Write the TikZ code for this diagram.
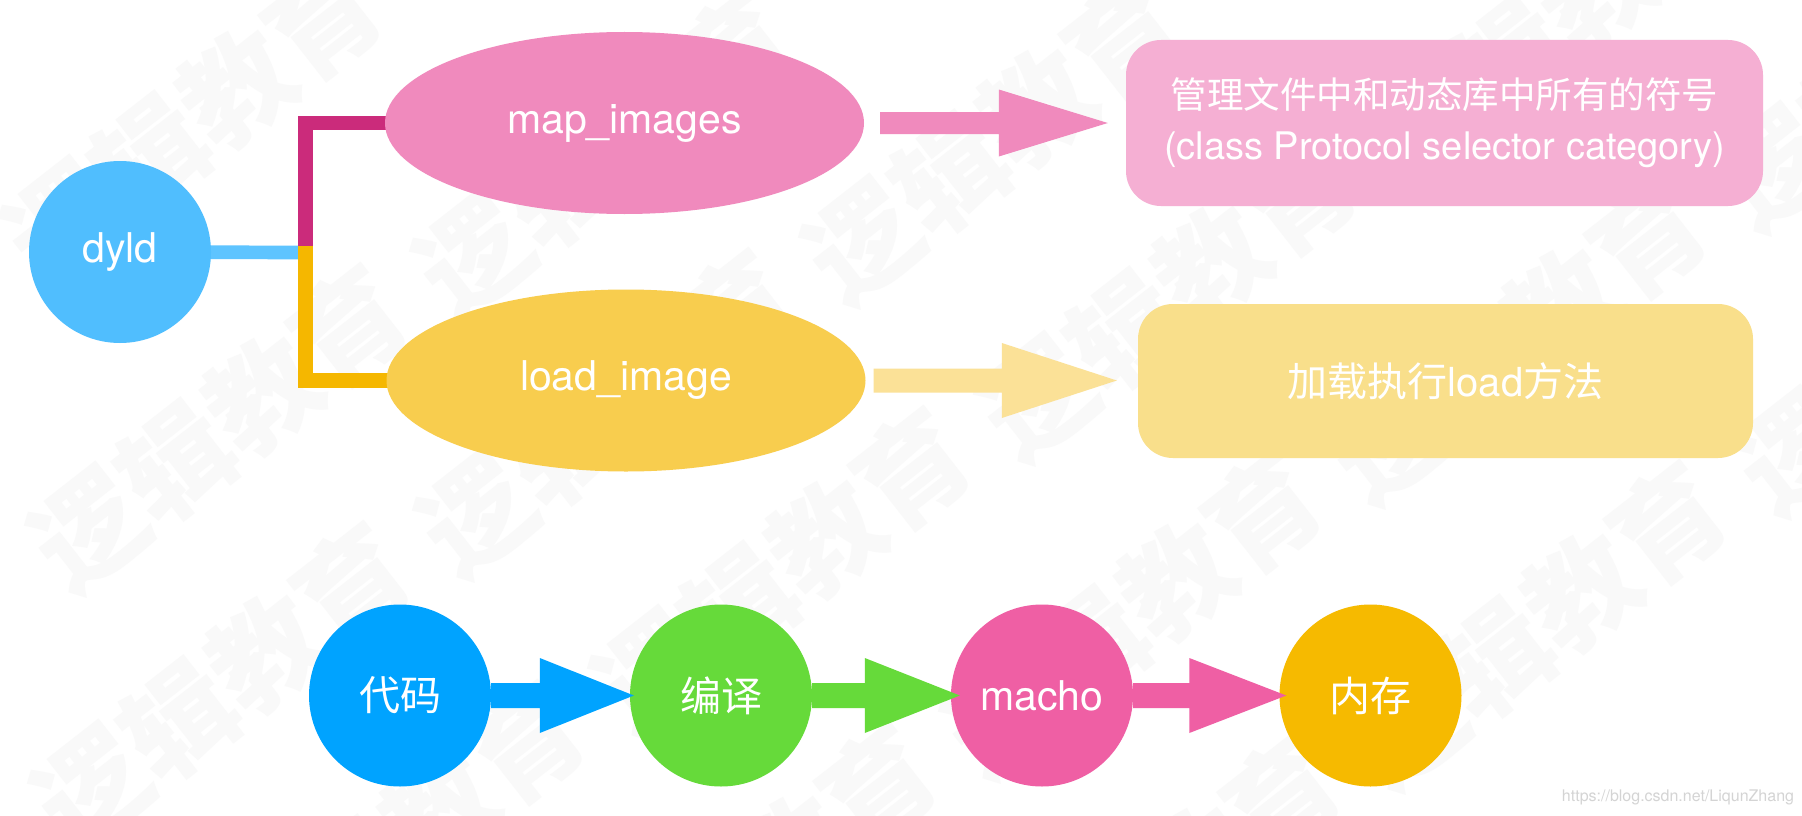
\documentclass[tikz,border=0pt]{standalone}
\usepackage{fontspec}
\setmainfont{TeX Gyre Heros}
\newfontfamily\cjk{Noto Sans CJK SC}
\usetikzlibrary{shapes.geometric,calc}
\pgfdeclarelayer{wmark}
\pgfdeclarelayer{bg}
\pgfsetlayers{wmark,bg,main}
\definecolor{cDyld}{HTML}{50BEFE}
\definecolor{cLine}{HTML}{5EC4FF}
\definecolor{cPinkBar}{HTML}{CB2B7B}
\definecolor{cYellowBar}{HTML}{F5B700}
\definecolor{cMap}{HTML}{F08ABD}
\definecolor{cLoad}{HTML}{F8CD4E}
\definecolor{cMapArrow}{HTML}{F08ABD}
\definecolor{cLoadArrow}{HTML}{FBE197}
\definecolor{cBoxA}{HTML}{F5AFD3}
\definecolor{cBoxB}{HTML}{F9DF8B}
\definecolor{cCode}{HTML}{00A3FF}
\definecolor{cComp}{HTML}{66DA3A}
\definecolor{cMacho}{HTML}{EF5FA4}
\definecolor{cMem}{HTML}{F6BA00}
\definecolor{cWm}{HTML}{F9F9F9}
\definecolor{cUrl}{HTML}{D4D4D4}
% #1 start anchor, #2 end anchor, #3 start gap, #4 end gap,
% #5 shaft half height, #6 head half height, #7 head length, #8 colour
\newcommand\blockarrow[8]{%
  \fill[#8] let \p1=(#1), \p2=(#2) in
    ({\x1+#3},{\y1+#5}) -- ({\x2-(#4)-(#7)},{\y1+#5}) -- ({\x2-(#4)-(#7)},{\y1+#6})
    -- ({\x2-(#4)},{\y1}) -- ({\x2-(#4)-(#7)},{\y1-#6}) -- ({\x2-(#4)-(#7)},{\y1-#5})
    -- ({\x1+#3},{\y1-#5}) -- cycle;}
\begin{document}
\begin{tikzpicture}[x=1pt,y=-1pt,
  lbl/.style={text=white, font=\fontsize{41}{49}\selectfont},
  circ/.style={circle, minimum size=182pt, inner sep=0pt, lbl},
  ell/.style={ellipse, minimum width=479pt, minimum height=182pt, inner sep=0pt, lbl},
  roundbox/.style={rounded corners=35pt, inner sep=0pt, lbl, align=center},
  wm/.style={text=cWm, font=\cjk\bfseries\fontsize{110}{110}\selectfont, rotate=38, inner sep=0pt},
  bar/.style={line width=14.4pt}]
\useasboundingbox (0,0) rectangle (1802,816);
\begin{pgfonlayer}{wmark}
  \fill[white] (0,0) rectangle (1802,816);
  \begin{scope}
    \clip (0,0) rectangle (1802,816);
    \foreach \p [count=\i] in {(193,121),(219,428),(222,686),(604,154),(607,413),(993,140),
      (396,845),(782,571),(1168,297),(1553,24),(748,887),(1133,614),(1518,340),
      (1904,67),(1152,898),(1538,625),(1924,351)}
      \node[wm] (wm\i) at \p {逻辑教育};
  \end{scope}
\end{pgfonlayer}

% top part
\node[circ, fill=cDyld] (dyld) at (120,252) {dyld};
\node[ell, fill=cMap] (map) at (624.5,123) {map\_images};
\node[ell, fill=cLoad] (load) at (626,380.5) {load\_image};
\node[roundbox, fill=cBoxA, minimum width=637pt, minimum height=166pt,
      font=\fontsize{38}{51}\selectfont] (boxA) at (1444.5,123)
  {{\cjk\fontsize{36.5}{51}\selectfont 管理文件中和动态库中所有的符号}\\(class Protocol selector category)};
\node[roundbox, fill=cBoxB, minimum width=615pt, minimum height=154pt,
      font=\fontsize{40}{48}\selectfont] (boxB) at (1445.5,381)
  {{\cjk 加载执行}load{\cjk 方法}};

% bottom chain
\node[circ, fill=cCode] (code) at (400,695.5) {\cjk 代码};
\node[circ, fill=cComp] (comp) at (721,695.5) {\cjk 编译};
\node[circ, fill=cMacho] (macho) at (1042,695.5) {macho};
\node[circ, fill=cMem] (mem) at (1370.5,695.5) {\cjk 内存};

% connectors from dyld
\coordinate (jn) at (305.5,252.5);
\coordinate (jsplit) at (305.5,245.7);
\begin{pgfonlayer}{bg}
  \draw[line width=13.7pt, cLine] (dyld.center) -- (jn);
  \draw[bar, cPinkBar] (jsplit) |- (map.center);
  \draw[bar, cYellowBar] (jsplit) |- (load.center);
\end{pgfonlayer}

% block arrows
\blockarrow{map.east}{boxA.west}{16}{18}{11}{33.5}{109}{cMapArrow}
\blockarrow{load.east}{boxB.west}{8}{21}{12}{37.5}{115}{cLoadArrow}
\blockarrow{code.east}{comp.west}{0}{-4}{12.5}{37.5}{94}{cCode}
\blockarrow{comp.east}{macho.west}{0}{-9}{12.5}{37.5}{95}{cComp}
\blockarrow{macho.east}{mem.west}{0}{-7}{12.5}{37.5}{97}{cMacho}

\node[text=cUrl, font=\fontsize{16}{18}\selectfont, inner sep=0pt] (url) at (1678,797)
  {https://blog.csdn.net/LiqunZhang};
\end{tikzpicture}
\end{document}
